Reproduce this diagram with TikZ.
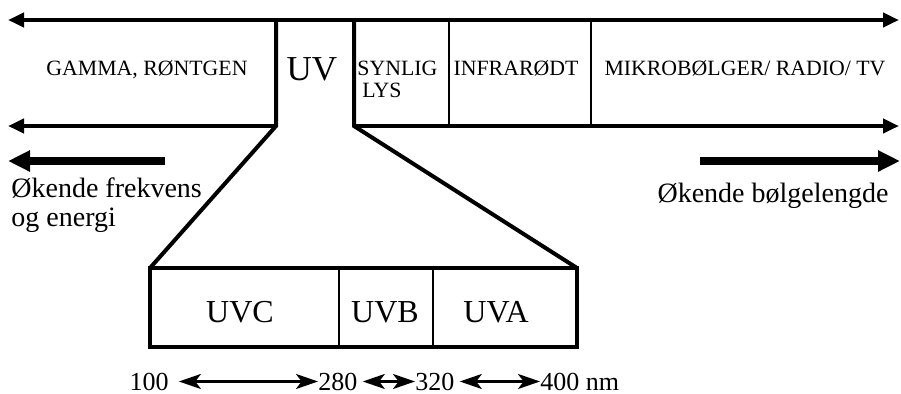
\documentclass[tikz,border=0pt]{standalone}
\usepackage{fontspec}
\setmainfont{Liberation Serif}
\usetikzlibrary{arrows.meta,positioning}

\begin{document}
\begin{tikzpicture}[x=0.5pt, y=-0.5pt, line join=miter,
  band/.style={line width=2.2pt},
  bandarrow/.style={>={Triangle[length=8pt,width=7pt]}},
  divider/.style={line width=1.1pt},
  outline/.style={line width=2pt},
  bigarrow/.style={line width=4.3pt, -{Triangle[length=11pt,width=10pt]}},
  scalearrow/.style={line width=1.3pt, {Stealth[length=11pt,width=7.5pt,inset=2.8pt]}-{Stealth[length=11pt,width=7.5pt,inset=2.8pt]}},
  lbl/.style={inner sep=0pt, font=\fontsize{10.9}{12}\selectfont},
  uvlbl/.style={inner sep=0pt, font=\fontsize{16}{18}\selectfont},
  numlbl/.style={inner sep=0pt, font=\fontsize{13}{15}\selectfont},
  dirlbl/.style={inner sep=0pt, align=left, font=\fontsize{14}{14.5}\selectfont}]
  \useasboundingbox (0,0) rectangle (901,393);

  % spectrum band
  \coordinate (topL) at (8,20);
  \coordinate (topR) at (899,20);
  \coordinate (midL) at (8,126);
  \coordinate (midR) at (899,126);
  \coordinate (uvTL) at (276,20);
  \coordinate (uvTR) at (354,20);
  \coordinate (uvBL) at (276,126);
  \coordinate (uvBR) at (354,126);
  \draw[band, bandarrow, <->] (topL) -- (topR);
  \draw[band, bandarrow, <-] (midL) -- (uvBL);
  \draw[band, bandarrow, ->] (uvBR) -- (midR);
  \draw[divider] (449,20) -- (449,126);
  \draw[divider] (591,20) -- (591,126);

  % band labels
  \node[lbl, anchor=base] (gamma) at (147,75) {GAMMA, RØNTGEN};
  \node[uvlbl, anchor=base, font=\fontsize{17.5}{20}\selectfont] (uv) at (312,80) {UV};
  \node[lbl, anchor=base west] (synlig) at (357,75) {SYNLIG};
  \node[lbl, anchor=base west] (lys) at (362,97) {LYS};
  \node[lbl, anchor=base] (ir) at (516,75) {INFRARØDT};
  \node[lbl, anchor=base] (radio) at (745,75) {MIKROBØLGER/ RADIO/ TV};

  % UV funnel and sub-bands
  \coordinate (boxNW) at (150,268);
  \coordinate (boxNE) at (577,268);
  \coordinate (boxSE) at (577,347);
  \draw[outline] (uvTL) -- (uvBL) -- (boxNW);
  \draw[outline] (uvTR) -- (uvBR) -- (boxNE);
  \draw[outline] (boxNW) rectangle (boxSE);
  \draw[divider] (339,268) -- (339,347);
  \draw[divider] (433,268) -- (433,347);
  \node[uvlbl, anchor=base] (uvc) at (240,322) {UVC};
  \node[uvlbl, anchor=base] (uvb) at (385,322) {UVB};
  \node[uvlbl, anchor=base] (uva) at (496,322) {UVA};

  % direction arrows
  \coordinate (freqS) at (165,161);
  \coordinate (freqE) at (8,161);
  \coordinate (waveS) at (700,161);
  \coordinate (waveE) at (900,161);
  \draw[bigarrow] (freqS) -- (freqE);
  \draw[bigarrow] (waveS) -- (waveE);
  \node[dirlbl, anchor=north west] (freq) at (11,177) {Økende frekvens\\og energi};
  \node[dirlbl, anchor=base] (wave) at (773,202) {Økende bølgelengde};

  % wavelength scale
  \node[numlbl, anchor=base] (n100) at (149,390) {100};
  \node[numlbl, anchor=base west] (n280) at (318,390) {280};
  \node[numlbl, anchor=base west] (n320) at (415,390) {320};
  \node[numlbl, anchor=base west] (n400) at (540,390) {400 nm};
  \draw[scalearrow, shorten <=5pt] (n100.east) -- (n280.west);
  \draw[scalearrow, shorten <=2.5pt] (n280.east) -- (n320.west);
  \draw[scalearrow, shorten <=2.5pt] (n320.east) -- (n400.west);
\end{tikzpicture}
\end{document}
